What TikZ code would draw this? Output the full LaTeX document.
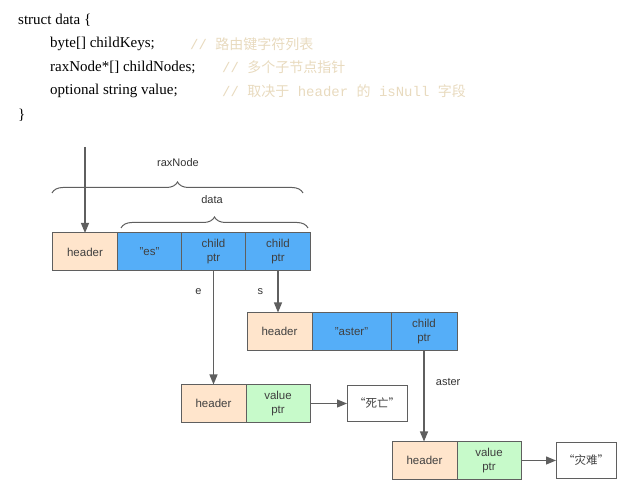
\documentclass[tikz,border=0pt]{standalone}
\usepackage{fontspec}
\setmainfont{Liberation Serif}
\setsansfont{Liberation Sans}
\setmonofont{Liberation Mono}
\newfontfamily\cjk{Noto Sans CJK SC}
\usetikzlibrary{positioning, arrows.meta, decorations.pathreplacing}
\definecolor{headerpeach}{RGB}{255, 229, 204}
\definecolor{keyblue}{RGB}{85, 174, 248}
\definecolor{valgreen}{RGB}{199, 250, 202}
\definecolor{edgegray}{RGB}{95, 95, 95}
\definecolor{commenttan}{RGB}{232, 218, 190}
\tikzset{
  cell/.style={
    draw=edgegray, line width=1pt,
    minimum height=38pt,
    inner sep=0pt, outer sep=0pt,
    font=\fontsize{11.5}{14}\sffamily,
    text=black!75, align=center
  },
  hdrcell/.style={cell, fill=headerpeach, minimum width=65pt},
  keycell/.style={cell, fill=keyblue, minimum width=64pt},
  valcell/.style={cell, fill=valgreen, minimum width=64pt},
  strbox/.style={cell, fill=white, minimum width=60pt, minimum height=36pt},
  link/.style={-{Triangle[length=10pt, width=8pt]}, line width=1.2pt, edgegray},
  lbl/.style={font=\fontsize{11}{13}\sffamily, text=black!80},
  bracemark/.style={decorate, decoration={brace, amplitude=11pt}, line width=1pt, edgegray},
  codeline/.style={anchor=west, inner sep=0pt, font=\fontsize{15}{17}\selectfont},
  comment/.style={anchor=west, inner sep=0pt, font=\fontsize{14}{16}\ttfamily, text=commenttan}
}

\begin{document}
\begin{tikzpicture}[x=1pt, y=1pt]
\useasboundingbox (0,0) rectangle (640,497);

% struct definition
\node[codeline] (code1) at (18, 477) {struct data \{};
\node[codeline] (code2) at (50, 453) {byte[] childKeys;};
\node[codeline] (code3) at (50, 430) {raxNode*[] childNodes;};
\node[codeline] (code4) at (50, 406) {optional string value;};
\node[codeline] (code5) at (18, 382) {\}};
\node[comment] (note2) at (190, 453) {// {\cjk 路由键字符列表}};
\node[comment] (note3) at (222, 430) {// {\cjk 多个子节点指针}};
\node[comment] (note4) at (222, 406) {// {\cjk 取决于} header {\cjk 的} isNull {\cjk 字段}};

% root node
\node[hdrcell] (hdr_root) at (85, 245) {header};
\node[keycell, right=0pt of hdr_root] (key_es) {"es"};
\node[keycell, right=0pt of key_es] (ptr_e) {child\\ptr};
\node[keycell, minimum width=65pt, right=0pt of ptr_e] (ptr_s) {child\\ptr};

% braces
\draw[bracemark] (52, 304) -- (303, 304);
\node[lbl] (lbl_rax) at (178, 334) {raxNode};
\draw[bracemark] (121, 269) -- (308, 269);
\node[lbl] (lbl_data) at (212, 297) {data};

% child "s"
\node[hdrcell] (hdr_s) at (279.5, 165.5) {header};
\node[keycell, minimum width=79pt, right=0pt of hdr_s] (key_aster) {"aster"};
\node[keycell, minimum width=66pt, right=0pt of key_aster] (ptr_aster) {child\\ptr};

% child "e"
\node[hdrcell] (hdr_e) at (213.5, 93.5) {header};
\node[valcell, right=0pt of hdr_e] (val_e) {value\\ptr};
\node[strbox] (str_e) at (377, 93.5) {{\cjk “死亡”}};

% child "aster"
\node[hdrcell] (hdr_aster) at (424.5, 36.5) {header};
\node[valcell, right=0pt of hdr_aster] (val_aster) {value\\ptr};
\node[strbox] (str_aster) at (586, 36.5) {{\cjk “灾难”}};

% links
\coordinate (entry) at (85, 350);
\draw[link] (entry) -- (hdr_root);
\draw[link] (ptr_e.south) -- (ptr_e.south |- hdr_e.north) node[lbl, pos=0.18, left=8pt] {e};
\draw[link] (ptr_s.south) -- (ptr_s.south |- hdr_s.north) node[lbl, midway, left=11pt] {s};
\draw[link] (ptr_aster.south) -- (ptr_aster.south |- hdr_aster.north) node[lbl, pos=0.35, right=8pt] {aster};
\draw[link] (val_e) -- (str_e);
\draw[link] (val_aster) -- (str_aster);

\end{tikzpicture}
\end{document}
